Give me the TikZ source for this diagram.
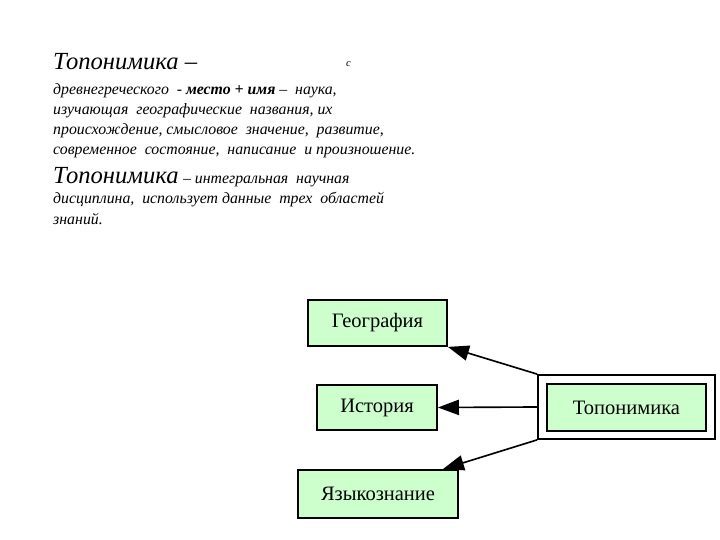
\documentclass[tikz,border=0pt]{standalone}
\usepackage{fontspec}
\setmainfont{Liberation Serif}
\usetikzlibrary{arrows.meta, positioning, calc}

\definecolor{boxgreen}{RGB}{204,255,204}

\begin{document}
\begin{tikzpicture}[
    x=0.03cm, y=-0.03cm,
    box/.style={draw, line width=1.5pt, fill=boxgreen, inner sep=0pt, font=\fontsize{17.5}{20}\selectfont},
    frame/.style={draw, line width=1.5pt, fill=white, inner sep=0pt},
    txt/.style={anchor=base west, inner sep=0pt, font=\fontsize{13.5}{16}\selectfont\itshape},
    head/.style={anchor=base west, inner sep=0pt, font=\fontsize{21}{24}\selectfont\itshape},
    arr/.style={-{Triangle[length=18pt, width=13pt]}, line width=1.4pt}
  ]
    \useasboundingbox (0,0) rectangle (720,540);

    %% ── definition text ──
    \node[head] (h1) at (53,70) {Топонимика --};
    \node[anchor=base west, inner sep=0pt, font=\fontsize{9}{10}\selectfont\itshape] (c1) at (346,67) {с};
    \node[txt] (l2) at (53,95) {древнегреческого\ \ - \textbf{место + имя} -- \ наука,};
    \node[txt] (l3) at (53,115) {изучающая \ географические \ названия, их};
    \node[txt] (l4) at (53,135) {происхождение, смысловое \ значение, \ развитие,};
    \node[txt] (l5) at (53,155) {современное \ состояние, \ написание \ и произношение.};
    \node[head] (h2) at (53,184) {Топонимика};
    \node[txt] (l6) at (h2.base east) [anchor=base west] {\ -- интегральная \ научная};
    \node[txt] (l7) at (53,204) {дисциплина, \ использует данные \ трех \ областей};
    \node[txt] (l8) at (53,225) {знаний.};

    %% ── boxes ──
    \node[box, minimum width=4.17cm, minimum height=1.38cm] (geo)  at (377.5,323) {География};
    \node[box, minimum width=3.6cm,  minimum height=1.35cm] (hist) at (377,407.5) {История};
    \node[box, minimum width=4.8cm,  minimum height=1.44cm] (lang) at (378,494) {Языкознание};

    \node[frame, minimum width=5.31cm, minimum height=1.92cm] (outer) at (626.5,407) {};
    \node[box, minimum width=4.77cm, minimum height=1.41cm] (topo) at (626.5,407.5) {Топонимика};

    %% ── arrows ──
    \draw[arr] (outer.north west) -- (geo.south east);
    \draw[arr] (outer.west) -- (hist.east);
    \draw[arr] (outer.south west) -- ($(lang.north east)+(-16,0)$);

  \end{tikzpicture}
\end{document}
